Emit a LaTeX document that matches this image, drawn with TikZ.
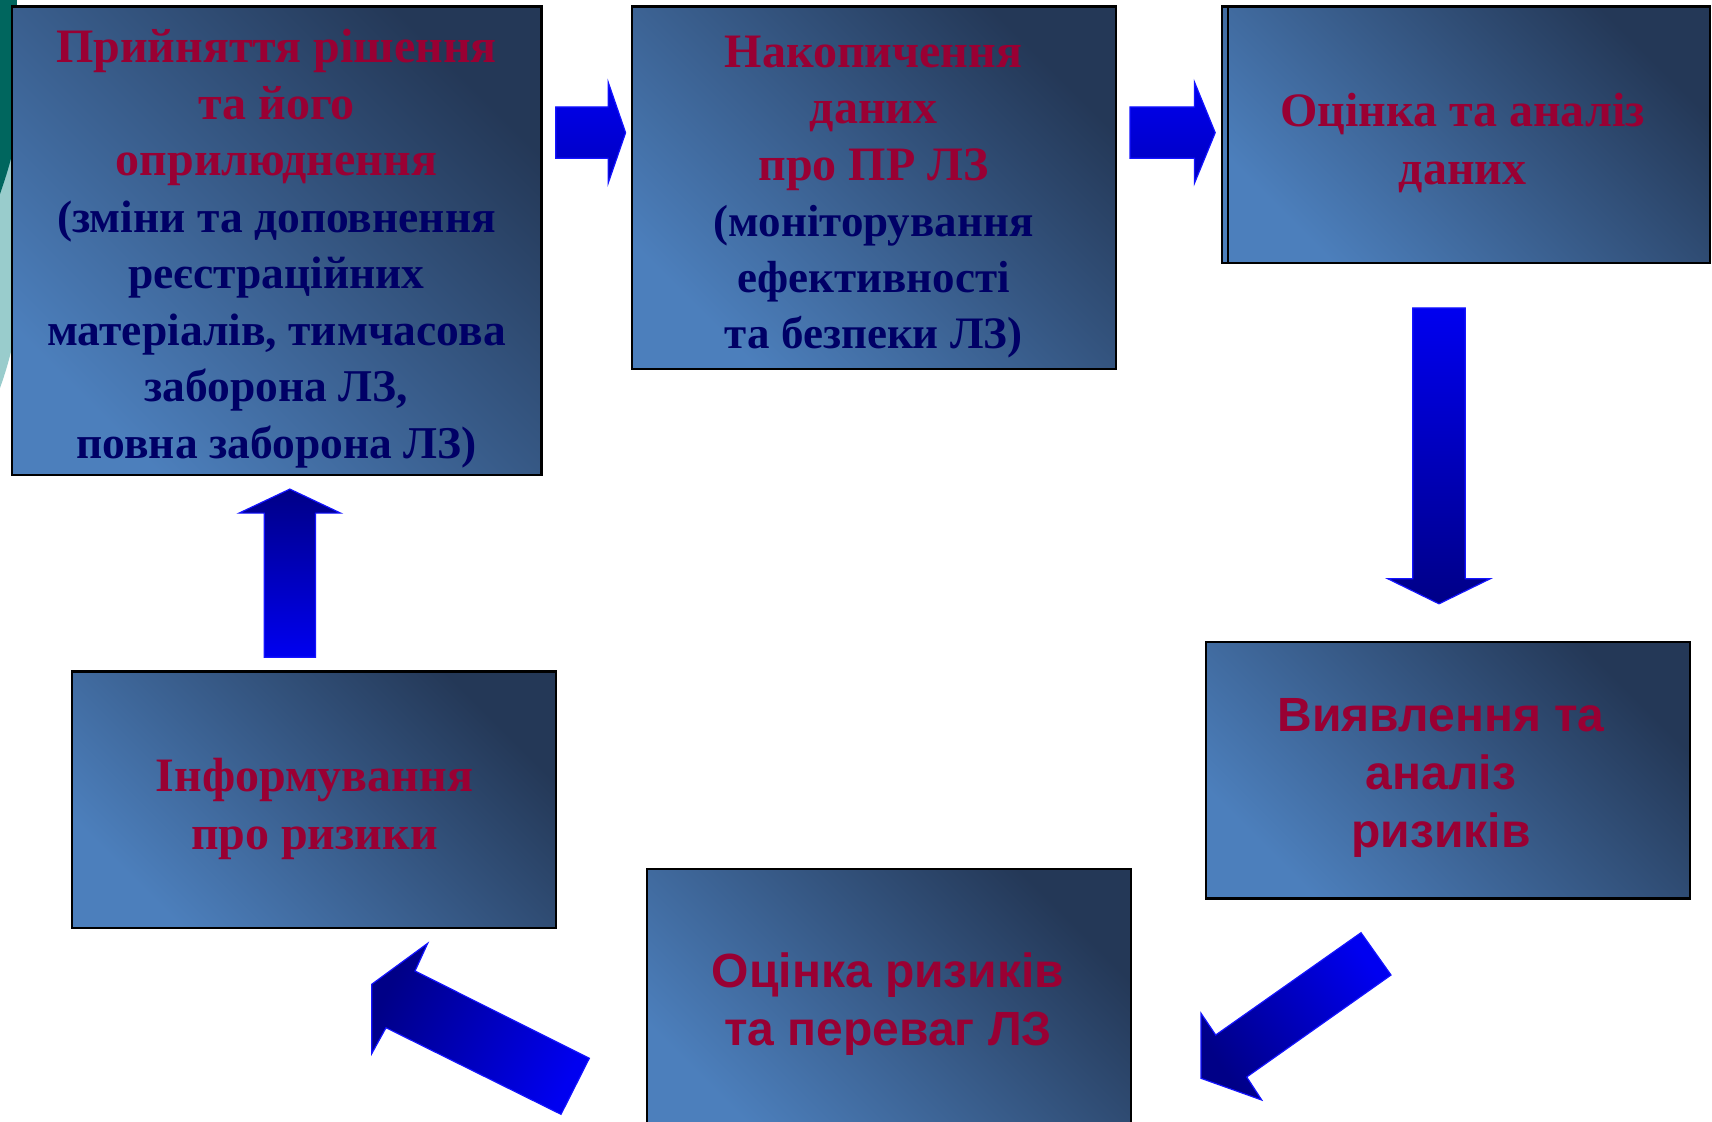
\documentclass[tikz,border=0pt]{standalone}
\usepackage{fontspec}
\setmainfont{Liberation Serif}
\newfontfamily\arialsans{Liberation Sans}
\definecolor{boxlight}{RGB}{76,127,188}
\definecolor{boxdark}{RGB}{36,56,87}
\definecolor{titlered}{RGB}{153,0,51}
\definecolor{navytext}{RGB}{0,0,102}
\definecolor{arrbright}{RGB}{0,0,240}
\definecolor{arrmid}{RGB}{0,0,190}
\definecolor{arrdark}{RGB}{0,0,135}
\definecolor{arredge}{RGB}{20,20,255}
\definecolor{tealdark}{RGB}{0,102,94}
\definecolor{teallight}{RGB}{153,204,204}
\newcommand\tred[1]{{\fontsize{48}{56.5}\selectfont\color{titlered}#1}}
\newcommand\tnavy[1]{\textcolor{navytext}{#1}}
\begin{document}
\begin{tikzpicture}[x=1pt,y=-1pt,
  stepbox/.style={draw=black, line width=2.4pt, inner sep=0pt, outer sep=0pt,
    bottom color=boxlight, top color=boxdark, shading angle=-45},
  blockarrow/.style={draw=arredge, line width=1.2pt, line join=miter},
  serifA/.style={font=\fontsize{45.5}{56.5}\selectfont\bfseries, align=center, inner sep=0pt},
  serifC/.style={font=\fontsize{45}{56.1}\selectfont\bfseries, align=center, inner sep=0pt},
  serifB/.style={font=\fontsize{48}{58}\selectfont\bfseries, align=center, inner sep=0pt, text=titlered},
  sansA/.style={font=\arialsans\fontsize{48}{58}\selectfont\bfseries, align=center, inner sep=0pt, text=titlered}]
\useasboundingbox (0,0) rectangle (1712,1121);
\clip (0,0) rectangle (1712,1121);
\fill[white] (0,0) rectangle (1712,1121);
% left-edge background decoration
\fill[teallight] (0,150) -- (14,150) -- (14,338) .. controls (10,358) and (5,374) .. (0,388) -- cycle;
\fill[tealdark] (0,0) -- (17,0) .. controls (15,60) and (14,120) .. (13,150) .. controls (9,168) and (4,182) .. (0,194) -- cycle;
% boxes
\node[stepbox, minimum width=529.5pt, minimum height=468.5pt] (b1) at (276.75,240.75) {};
\node[stepbox, minimum width=484pt, minimum height=362.5pt] (b2) at (874,187.75) {};
\node[stepbox, minimum width=488pt, minimum height=256.5pt] (b3) at (1466,134.75) {};
\draw[black, line width=2.4pt] ([xshift=6pt]b3.north west) -- ([xshift=6pt]b3.south west);
\node[stepbox, minimum width=484pt, minimum height=256.5pt] (b4) at (1448,770.25) {};
\node[stepbox, minimum width=484pt, minimum height=266pt] (b5) at (889,1002) {};
\node[stepbox, minimum width=484pt, minimum height=256.5pt] (b6) at (314,799.75) {};
% texts
\node[serifA] (t1) at (276.5,248.8) {\tred{Прийняття рішення}\\ \tred{та його}\\ \tred{оприлюднення}\\ \tnavy{(зміни та доповнення}\\ \tnavy{реєстраційних}\\ \tnavy{матеріалів, тимчасова}\\ \tnavy{заборона ЛЗ,}\\ \tnavy{повна заборона ЛЗ)}};
\node[serifC] (t2) at (873.5,197.2) {\tred{Накопичення}\\ \tred{даних}\\ \tred{про ПР ЛЗ}\\ \tnavy{(моніторування}\\ \tnavy{ефективності}\\ \tnavy{та безпеки ЛЗ)}};
\node[serifB] (t3) at (1462.5,143.3) {Оцінка та аналіз\\ даних};
\node[sansA] (t4) at (1441,777.9) {Виявлення та\\ аналіз\\ ризиків};
\node[sansA] (t5) at (888,1003.9) {Оцінка ризиків\\ та переваг ЛЗ};
\node[serifB] (t6) at (314.5,808.9) {Інформування\\ про ризики};
% block arrows
\draw[blockarrow, top color=arrbright, bottom color=arrmid] (555.7,107) -- (608.1,107) -- (608.1,81.9) -- (625.6,132.7) -- (608.1,183.4) -- (608.1,158.3) -- (555.7,158.3) -- cycle;
\draw[blockarrow, top color=arrbright, bottom color=arrmid] (1130,107) -- (1194.4,107) -- (1194.4,81.9) -- (1215.2,132.7) -- (1194.4,183.4) -- (1194.4,158.3) -- (1130,158.3) -- cycle;
\draw[blockarrow, top color=arrbright, bottom color=arrdark] (1412.8,307.9) -- (1465.2,307.9) -- (1465.2,578.7) -- (1490.3,578.7) -- (1439,603.8) -- (1387.7,578.7) -- (1412.8,578.7) -- cycle;
\draw[blockarrow, bottom color=arrbright, top color=arrdark] (264.2,657.3) -- (315.5,657.3) -- (315.5,513.1) -- (340.6,513.1) -- (289.85,489.1) -- (239.1,513.1) -- (264.2,513.1) -- cycle;
\draw[blockarrow, bottom color=arrdark, top color=arrbright, shading angle=-55] (1361,932.7) -- (1215.7,1035) -- (1201,1013.3) -- (1201,1078.3) -- (1261.7,1100) -- (1246.7,1077) -- (1391,975) -- cycle;
\draw[blockarrow, bottom color=arrdark, top color=arrbright, shading angle=-116.5] (589.3,1058.3) -- (415,971) -- (427.7,943.3) -- (371.7,984.3) -- (371.7,1053.7) -- (386,1027.7) -- (561,1114.3) -- cycle;
\end{tikzpicture}
\end{document}
